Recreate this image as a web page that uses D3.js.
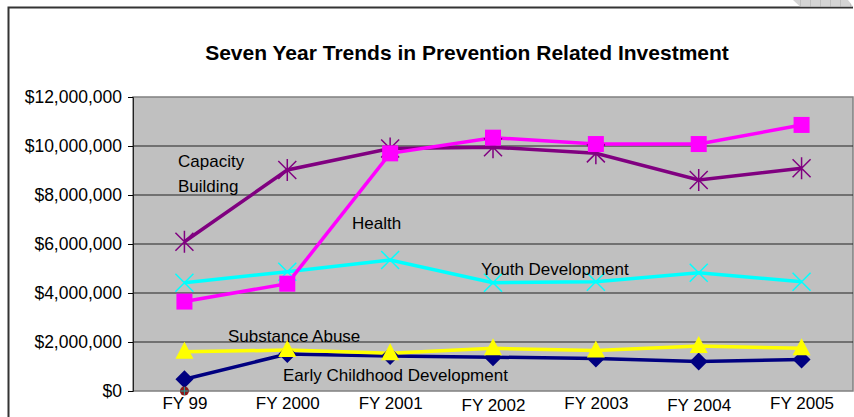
<!DOCTYPE html>
<meta charset="utf-8">
<script src="https://d3js.org/d3.v7.min.js"></script>
<style>
  body { margin: 0; background: #fff; }
  text { font-family: "Liberation Sans", Arial, sans-serif; }
</style>
<div id="my_dataviz"></div>
<script>

// data
var years = ["FY 99", "FY 2000", "FY 2001", "FY 2002", "FY 2003", "FY 2004", "FY 2005"];
var capacityBuilding = [6090000, 9020000, 9900000, 9950000, 9700000, 8610000, 9090000];
var health = [3650000, 4380000, 9700000, 10340000, 10080000, 10080000, 10860000];
var youthDevelopment = [4420000, 4870000, 5350000, 4420000, 4460000, 4830000, 4460000];
var substanceAbuse = [1600000, 1670000, 1540000, 1740000, 1650000, 1840000, 1740000];
var earlyChildhood = [480000, 1510000, 1430000, 1380000, 1330000, 1200000, 1290000];
var otherPoint = [0];
var yTicks = [0, 2000000, 4000000, 6000000, 8000000, 10000000, 12000000];

var W = 854, H = 417;
var margin = {top: 97, right: 1, bottom: 26, left: 133},
    width = W - margin.left - margin.right,
    height = H - margin.top - margin.bottom;

var svg = d3.select("#my_dataviz")
  .append("svg")
    .attr("width", W)
    .attr("height", H);

// outer chart frame
svg.append("path")
  .attr("d", "M8.5," + H + "V7.5H853")
  .attr("fill", "none")
  .attr("stroke", "#333")
  .attr("stroke-width", 2);

// hatched corner bit at top right
var pat = svg.append("defs").append("pattern")
  .attr("id", "hatch").attr("patternUnits", "userSpaceOnUse")
  .attr("width", 10).attr("height", 10);
pat.append("rect").attr("width", 10).attr("height", 10).attr("fill", "#d4d4d4");
pat.append("line").attr("x1", 0).attr("y1", 0).attr("x2", 0).attr("y2", 10)
  .attr("stroke", "#aaa").attr("stroke-width", 1);
svg.append("path")
  .attr("d", "M793,0H848L853,6.5H800Z")
  .attr("fill", "url(#hatch)");

svg.append("text")
  .attr("x", 467)
  .attr("y", 60)
  .attr("text-anchor", "middle")
  .style("font-size", "21px")
  .style("font-weight", "bold")
  .text("Seven Year Trends in Prevention Related Investment");

var g = svg.append("g")
  .attr("transform", "translate(" + margin.left + "," + margin.top + ")");

var x = d3.scalePoint()
  .domain(years)
  .range([0, width])
  .padding(0.5);

var y = d3.scaleLinear()
  .domain([0, 12000000])
  .range([height, 0]);

// plot area
g.append("rect")
  .attr("width", width)
  .attr("height", height)
  .attr("fill", "#c0c0c0")
  .attr("stroke", "#808080")
  .attr("stroke-width", 1.5);

// gridlines
g.selectAll("grid")
  .data(yTicks.slice(1, -1))
  .enter()
  .append("line")
    .attr("x1", 0)
    .attr("x2", width)
    .attr("y1", function(d) { return y(d); })
    .attr("y2", function(d) { return y(d); })
    .attr("stroke", "#222")
    .attr("stroke-width", 1);

// Y axis
var yAxis = g.append("g")
  .call(d3.axisLeft(y).tickValues(yTicks).tickSize(5).tickPadding(6)
    .tickFormat(function(d) { return "$" + d3.format(",")(d); }));
yAxis.select(".domain").attr("stroke", "#222");
yAxis.selectAll("text").style("font-size", "17.5px").attr("fill", "#000");

// X axis
var xAxis = g.append("g")
  .attr("transform", "translate(0," + height + ")")
  .call(d3.axisBottom(x).tickSize(0).tickPadding(6));
xAxis.select(".domain").remove();
xAxis.selectAll("text")
  .style("font-size", "17px")
  .attr("fill", "#000")
  .attr("dy", function(d, i) { return (i === 3 || i === 5) ? "0.8em" : "0.7em"; });

var line = d3.line()
  .x(function(d, i) { return x(years[i]); })
  .y(function(d) { return y(d); });

function drawLine(values, color) {
  g.append("path")
    .datum(values)
    .attr("fill", "none")
    .attr("stroke", color)
    .attr("stroke-width", 3.5)
    .attr("d", line);
}

drawLine(earlyChildhood, "#000080");
drawLine(substanceAbuse, "#ffff00");
drawLine(youthDevelopment, "#00ffff");
drawLine(capacityBuilding, "#800080");
drawLine(health, "#ff00ff");

// markers
function pts(values) {
  return g.selectAll(null)
    .data(values)
    .enter()
    .append("g")
      .attr("transform", function(d, i) { return "translate(" + x(years[i]) + "," + y(d) + ")"; });
}

// early childhood: diamonds
pts(earlyChildhood).append("path")
  .attr("d", "M0,-9L9,0L0,9L-9,0Z")
  .attr("fill", "#000080");

// substance abuse: triangles
pts(substanceAbuse).append("path")
  .attr("d", "M0,-10L9,7L-9,7Z")
  .attr("fill", "#ffff00");

// youth development: x marks
pts(youthDevelopment).append("path")
  .attr("d", "M-9,-9L9,9M9,-9L-9,9")
  .attr("stroke", "#00ffff")
  .attr("stroke-width", 1.5);

// capacity building: asterisks
pts(capacityBuilding).append("path")
  .attr("d", "M-9,-9L9,9M9,-9L-9,9M0,-11V11")
  .attr("stroke", "#800080")
  .attr("stroke-width", 1.5);

// health: squares
pts(health).append("rect")
  .attr("x", -8).attr("y", -8)
  .attr("width", 16).attr("height", 16)
  .attr("fill", "#ff00ff");

// small stray point at zero
var op = pts(otherPoint);
op.append("circle").attr("r", 4.5).attr("fill", "#8b1a1a");
op.append("path").attr("d", "M-4,0H4M0,-4V4").attr("stroke", "#20a0a0").attr("stroke-width", 1);

// series labels
var labels = [
  {t: "Capacity", x: 178, y: 167},
  {t: "Building", x: 178, y: 192},
  {t: "Health", x: 352, y: 229},
  {t: "Youth Development", x: 481, y: 275},
  {t: "Substance Abuse", x: 228, y: 342},
  {t: "Early Childhood Development", x: 283, y: 381}
];
svg.selectAll("lbl")
  .data(labels)
  .enter()
  .append("text")
    .attr("x", function(d) { return d.x; })
    .attr("y", function(d) { return d.y; })
    .style("font-size", "17px")
    .attr("fill", "#000")
    .text(function(d) { return d.t; });

</script>
